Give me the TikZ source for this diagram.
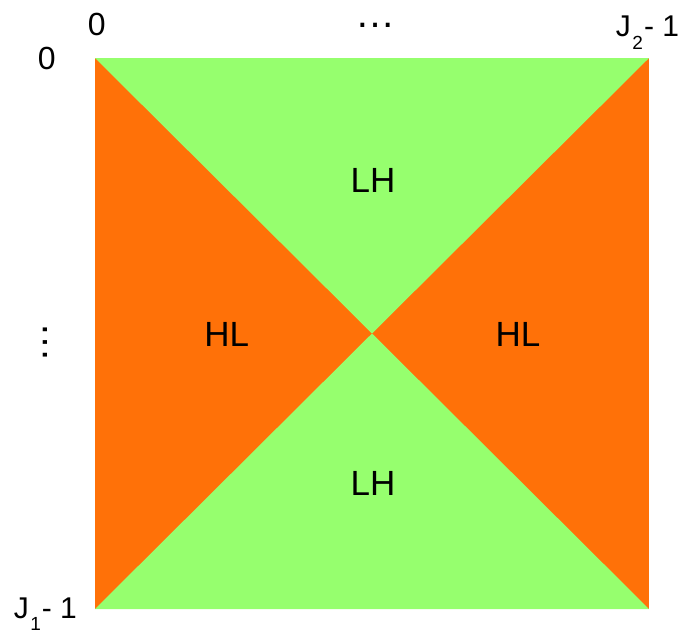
\documentclass[tikz,border=0pt]{standalone}
\usepackage{fontspec}
\setmainfont{Liberation Sans}
\usetikzlibrary{positioning}
\definecolor{lhgreen}{RGB}{150,255,110}
\definecolor{hlorange}{RGB}{255,113,8}
\newcommand{\jlabel}[1]{J\kern1.5pt\raisebox{-12.5pt}{\fontsize{19}{22}\selectfont #1}\kern1pt- 1}

\begin{document}
\begin{tikzpicture}[x=1pt, y=-1pt, every node/.style={inner sep=0pt, anchor=base},
  region/.style={font=\fontsize{35}{42}\selectfont},
  axis/.style={font=\fontsize{32}{38}\selectfont},
  axisj/.style={font=\fontsize{30}{36}\selectfont},
  dots/.style={font=\fontsize{40}{48}\selectfont, text height=5pt, text depth=0pt}]
  \useasboundingbox (0,0) rectangle (685,633);
  \coordinate (tl) at (95,58);
  \coordinate (tr) at (649,58);
  \coordinate (bl) at (95,609);
  \coordinate (br) at (649,609);
  \coordinate (mid) at (372,333.5);
  \fill[hlorange] (tl) rectangle (br);
  \fill[lhgreen] (tl) -- (tr) -- (mid) -- cycle;
  \fill[lhgreen] (bl) -- (br) -- (mid) -- cycle;
  \node[region] (lhtop) at (373,192.7) {LH};
  \node[region] (lhbot) at (373,495.7) {LH};
  \node[region] (hlleft) at (226.7,346.7) {HL};
  \node[region] (hlright) at (518,346.7) {HL};
  % axis labels
  \node[axis] (col0) at (96.7,35.5) {0};
  \node[dots] (coldots) at (375,27) {\ldots};
  \node[axisj] (colend) at (647.5,36.7) {\jlabel{2}};
  \node[axis] (row0) at (46.7,69.5) {0};
  \node[dots, anchor=center, rotate=90] (rowdots) at (45,342) {\ldots};
  \node[axisj] (rowend) at (45.3,618) {\jlabel{1}};
\end{tikzpicture}
\end{document}
